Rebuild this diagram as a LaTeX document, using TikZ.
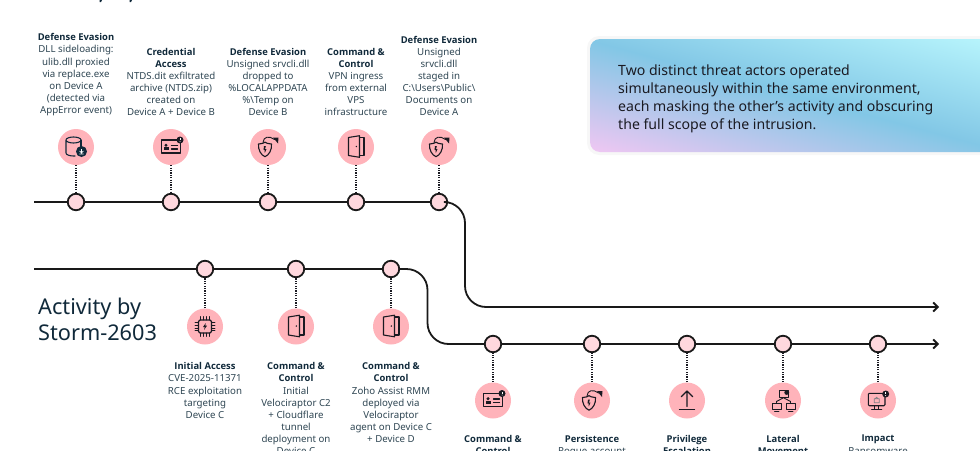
\documentclass[tikz,border=0pt]{standalone}
\usepackage{fontspec}
\setmainfont{Noto Sans}
\newfontfamily\headfont{Open Sans}[Scale=0.97]
\usetikzlibrary{arrows.meta}
\definecolor{inkdark}{HTML}{10293A}
\definecolor{inkbody}{HTML}{2F4653}
\definecolor{iconink}{HTML}{1A1A22}
\definecolor{badgepink}{HTML}{FFB3BA}
\definecolor{dotpink}{HTML}{FFD8DE}
\pgfdeclarehorizontalshading{calloutshade}{100bp}{
  rgb(0bp)=(0.93,0.78,0.95);
  rgb(20bp)=(0.93,0.78,0.95);
  rgb(50bp)=(0.51,0.78,0.90);
  rgb(80bp)=(0.72,0.96,0.99);
  rgb(100bp)=(0.72,0.96,0.99)}
\newcommand{\lblhead}[1]{{\headfont\bfseries\color{inkdark}#1}}
\begin{document}
\begin{tikzpicture}[
    x=1pt,y=1pt,
    tline/.style={line width=1.8pt,black!90},
    tip/.style={-{Straight Barb[length=4.5pt,width=9pt]}},
    dots/.style={line width=1.1pt,dash pattern=on 1.2pt off 1.2pt,iconink},
    stopdot/.style={circle,draw=black!90,fill=dotpink,line width=1.8pt,minimum size=16.5pt,inner sep=0pt},
    badge/.style={circle,fill=badgepink,minimum size=36pt,inner sep=0pt},
    lbl/.style={align=center,text=inkbody,inner sep=0pt,font=\fontsize{9.7}{12.1}\selectfont},
    ico/.style={draw=iconink,line width=1.1pt,line join=round,line cap=round},
    alert/.pic={
        \fill[iconink] (0,0) circle (3.5pt);
        \fill[white] (-0.4,-0.4) rectangle (0.4,2);
        \fill[white] (0,-1.5) circle (0.5pt);
    },
    dbicon/.pic={
        \draw[ico,draw=inkdark] (-10,7) arc (180:0:7.5 and 3) arc (0:-180:7.5 and 3) -- (-10,-6) arc (180:270:7.5 and 3) -- (-1,-9);
        \draw[ico,draw=inkdark] (5,7) -- (5,-1);
        \fill[inkdark] (5.5,-4.5) circle (5.5pt);
        \draw[white,line width=0.7pt] (5.5,-2) -- (5.5,-5.5) (3.5,-4) -- (5.5,-5.8) -- (7.5,-4) (3.3,-7) -- (7.7,-7);
    },
    cardicon/.pic={
        \draw[ico,line width=1.2pt] (-9.5,-6) rectangle (9.5,7);
        \fill[iconink] (-5,1.8) circle (1.7pt);
        \fill[iconink] (-7.5,-3) rectangle (-2.5,-0.2);
        \draw[ico] (0.5,1.5) -- (6.5,1.5) (0.5,-2) -- (6.5,-2);
        \pic at (9,7) {alert};
    },
    shieldicon/.pic={
        \draw[ico] (-9.5,3) .. controls (-6.5,3) and (-4,4) .. (-3,4.8) .. controls (-2,4) and (0.5,3) .. (3.5,3) .. controls (4,-3) and (1,-8) .. (-3,-9.7) .. controls (-7,-8) and (-10,-3) .. (-9.5,3) -- cycle;
        \draw[ico,line width=0.9pt] (-5,4.6) .. controls (-4.5,10.5) and (1,11.5) .. (6.5,7.5);
        \fill[iconink] (10,3.5) -- (5,9.5) -- (10.5,9.5) -- cycle;
        \fill[iconink] (-3.2,-6) -- (-1.5,-2) -- (-3,-2.3) -- (-2.2,0.8) -- (-4,0.8) -- (-4.5,-3) -- (-3.5,-2.8) -- cycle;
    },
    dooricon/.pic={
        \draw[ico] (-7.5,9.5) -- (3.5,11.3) -- (3.5,-10.3) -- (-7.5,-8.5) -- cycle;
        \draw[ico] (3.5,9.5) -- (8,9.5) -- (8,-8.5) -- (3.5,-8.5);
        \fill[iconink] (0.3,0.5) circle (0.8pt);
    },
    chipicon/.pic={
        \draw[ico,rounded corners=1.5pt] (-6.5,-6.5) rectangle (6.5,6.5);
        \foreach \p in {-4.2,-1.4,1.4,4.2}{
            \draw[ico,line width=0.8pt] (\p,6.5) -- (\p,10) (\p,-6.5) -- (\p,-10) (-6.5,\p) -- (-10,\p) (6.5,\p) -- (10,\p);
        }
        \fill[iconink] (0.8,3.5) -- (-2,-0.5) -- (-0.2,-0.5) -- (-1,-3.5) -- (2,0.8) -- (0.2,0.8) -- cycle;
    },
    upicon/.pic={
        \draw[ico] (0,-6) -- (0,9.5) (-5.8,3.7) -- (0,9.5) -- (5.8,3.7);
        \draw[ico] (-7.5,-8.8) -- (7.5,-8.8);
    },
    neticon/.pic={
        \draw[ico,line width=0.9pt] (-4,2.8) rectangle (5.3,9.8);
        \draw[ico,line width=0.9pt] (-10.7,-9) rectangle (-2,-3) (-8.5,-11) -- (-4.2,-11) (3.3,-9) rectangle (12,-3) (5.5,-11) -- (9.8,-11);
        \draw[ico,line width=0.9pt] (-6.5,-3) -- (-6.5,-1) -- (0.5,2.8) -- (7.5,-1) -- (7.5,-3);
        \fill[iconink] (3.7,8) circle (2.4pt);
    },
    monicon/.pic={
        \draw[ico,rounded corners=1pt] (-9.7,-5.2) rectangle (7,7.2);
        \draw[ico] (-3.2,-5.2) -- (-3.2,-8.8) (0.7,-5.2) -- (0.7,-8.8) (-6.3,-8.8) -- (3.7,-8.8);
        \draw[ico,draw=iconink!55,line width=0.7pt] (-3.8,-2.2) rectangle (1.2,1.8) (-2.8,1.8) arc (180:0:1.5);
        \pic at (7.7,6.5) {alert};
    }]

    % Frame
    \useasboundingbox (0,0) rectangle (980,-450);

    % Callout
    \fill[black!3,rounded corners=12pt] (587,-36) rectangle (1000,-155);
    \shade[shading=calloutshade,shading angle=75,rounded corners=10pt] (590,-39) rectangle (1000,-152);
    \node[anchor=north west,align=left,inner sep=0pt,text=iconink,font=\fontsize{14.1}{18}\selectfont] (note) at (618,-64.3)
        {Two distinct threat actors operated\\simultaneously within the same environment,\\each masking the other’s activity and obscuring\\the full scope of the intrusion.};

    % Title
    \fill[inkdark] (99.5,0) -- (102,0) -- (101,-2) -- (99.5,-2) -- cycle (129.5,0) -- (132,0) -- (131,-2) -- (129.5,-2) -- cycle;
    \node[anchor=north west,align=left,inner sep=0pt,text=inkdark,font=\fontsize{21.7}{26}\selectfont] (title) at (38,-298) {Activity by\\Storm-2603};

    % Upper stops
    \node[stopdot] (a1) at (76,-202) {};
    \node[stopdot] (a2) at (171,-202) {};
    \node[stopdot] (a3) at (268,-202) {};
    \node[stopdot] (a4) at (356,-202) {};
    \node[stopdot] (a5) at (439,-202) {};
    \node[badge] (ai1) at (76,-147) {};
    \node[badge] (ai2) at (171,-147) {};
    \node[badge] (ai3) at (268,-147) {};
    \node[badge] (ai4) at (356,-147) {};
    \node[badge] (ai5) at (439,-147) {};
    \pic at (ai1) {dbicon};
    \pic at (ai2) {cardicon};
    \pic at (ai3) {shieldicon};
    \pic at (ai4) {dooricon};
    \pic at (ai5) {shieldicon};
    \foreach \n in {1,...,5}{\draw[dots] (ai\n) -- (a\n);}

    % Upper labels
    \node[lbl,anchor=south] (al1) at (76,-116) {\lblhead{Defense Evasion}\\DLL sideloading:\\ulib.dll proxied\\via replace.exe\\on Device A\\(detected via\\AppError event)};
    \node[lbl,anchor=south] (al2) at (171,-116) {\lblhead{Credential}\\\lblhead{Access}\\NTDS.dit exfiltrated\\archive (NTDS.zip)\\created on\\Device A + Device B};
    \node[lbl,anchor=south] (al3) at (268,-116) {\lblhead{Defense Evasion}\\Unsigned srvcli.dll\\dropped to\\\%LOCALAPPDATA\\\%\textbackslash Temp on\\Device B};
    \node[lbl,anchor=south] (al4) at (356,-116) {\lblhead{Command \&}\\\lblhead{Control}\\VPN ingress\\from external\\VPS\\infrastructure};
    \node[lbl,anchor=south] (al5) at (439,-116) {\lblhead{Defense Evasion}\\Unsigned\\srvcli.dll\\staged in\\C:\textbackslash Users\textbackslash Public\textbackslash\\Documents on\\Device A};

    % Middle stops
    \node[stopdot] (b1) at (205,-269) {};
    \node[stopdot] (b2) at (296,-269) {};
    \node[stopdot] (b3) at (391,-269) {};
    \node[badge] (bi1) at (205,-326.5) {};
    \node[badge] (bi2) at (296,-326.5) {};
    \node[badge] (bi3) at (391,-326.5) {};
    \pic at (bi1) {chipicon};
    \pic at (bi2) {dooricon};
    \pic at (bi3) {dooricon};
    \foreach \n in {1,2,3}{\draw[dots] (bi\n) -- (b\n);}

    % Middle labels
    \node[lbl,anchor=north] (bl1) at (205,-362.5) {\lblhead{Initial Access}\\CVE-2025-11371\\RCE exploitation\\targeting\\Device C};
    \node[lbl,anchor=north] (bl2) at (296,-362.5) {\lblhead{Command \&}\\\lblhead{Control}\\Initial\\Velociraptor C2\\+ Cloudflare\\tunnel\\deployment on\\Device C};
    \node[lbl,anchor=north] (bl3) at (391,-362.5) {\lblhead{Command \&}\\\lblhead{Control}\\Zoho Assist RMM\\deployed via\\Velociraptor\\agent on Device C\\+ Device D};

    % Lower stops
    \node[stopdot] (c1) at (493,-344) {};
    \node[stopdot] (c2) at (592,-344) {};
    \node[stopdot] (c3) at (687,-344) {};
    \node[stopdot] (c4) at (783,-344) {};
    \node[stopdot] (c5) at (878,-344) {};
    \node[badge] (ci1) at (493,-400.5) {};
    \node[badge] (ci2) at (592,-400.5) {};
    \node[badge] (ci3) at (687,-400.5) {};
    \node[badge] (ci4) at (783,-400.5) {};
    \node[badge] (ci5) at (878,-400.5) {};
    \pic at (ci1) {cardicon};
    \pic at (ci2) {shieldicon};
    \pic at (ci3) {upicon};
    \pic at (ci4) {neticon};
    \pic at (ci5) {monicon};
    \foreach \n in {1,...,5}{\draw[dots] (ci\n) -- (c\n);}

    % Lower labels
    \node[lbl,anchor=north] (cl1) at (493,-435) {\lblhead{Command \&}\\\lblhead{Control}};
    \node[lbl,anchor=north] (cl2) at (592,-435) {\lblhead{Persistence}\\Rogue account};
    \node[lbl,anchor=north] (cl3) at (687,-435) {\lblhead{Privilege}\\\lblhead{Escalation}};
    \node[lbl,anchor=north] (cl4) at (783,-435) {\lblhead{Lateral}\\\lblhead{Movement}};
    \node[lbl,anchor=north] (cl5) at (878,-435) {\lblhead{Impact}\\Ransomware};

    % Timelines
    \coordinate (astart) at (34,-202);
    \coordinate (abend) at (465,-202);
    \coordinate (abdown) at (465,-307);
    \coordinate (aend) at (939,-307);
    \coordinate (bstart) at (34,-269);
    \coordinate (bbend) at (427.5,-269);
    \coordinate (bbdown) at (427.5,-344);
    \coordinate (cend) at (939,-344);
    \draw[tline] (astart) -- (a1) (a1) -- (a2) (a2) -- (a3) (a3) -- (a4) (a4) -- (a5);
    \draw[tline,tip,rounded corners=21pt] (a5) -- (abend) -- (abdown) -- (aend);
    \draw[tline] (bstart) -- (b1) (b1) -- (b2) (b2) -- (b3);
    \draw[tline,rounded corners=21pt] (b3) -- (bbend) -- (bbdown) -- (c1);
    \draw[tline] (c1) -- (c2) (c2) -- (c3) (c3) -- (c4) (c4) -- (c5);
    \draw[tline,tip] (c5) -- (cend);
\end{tikzpicture}
\end{document}
